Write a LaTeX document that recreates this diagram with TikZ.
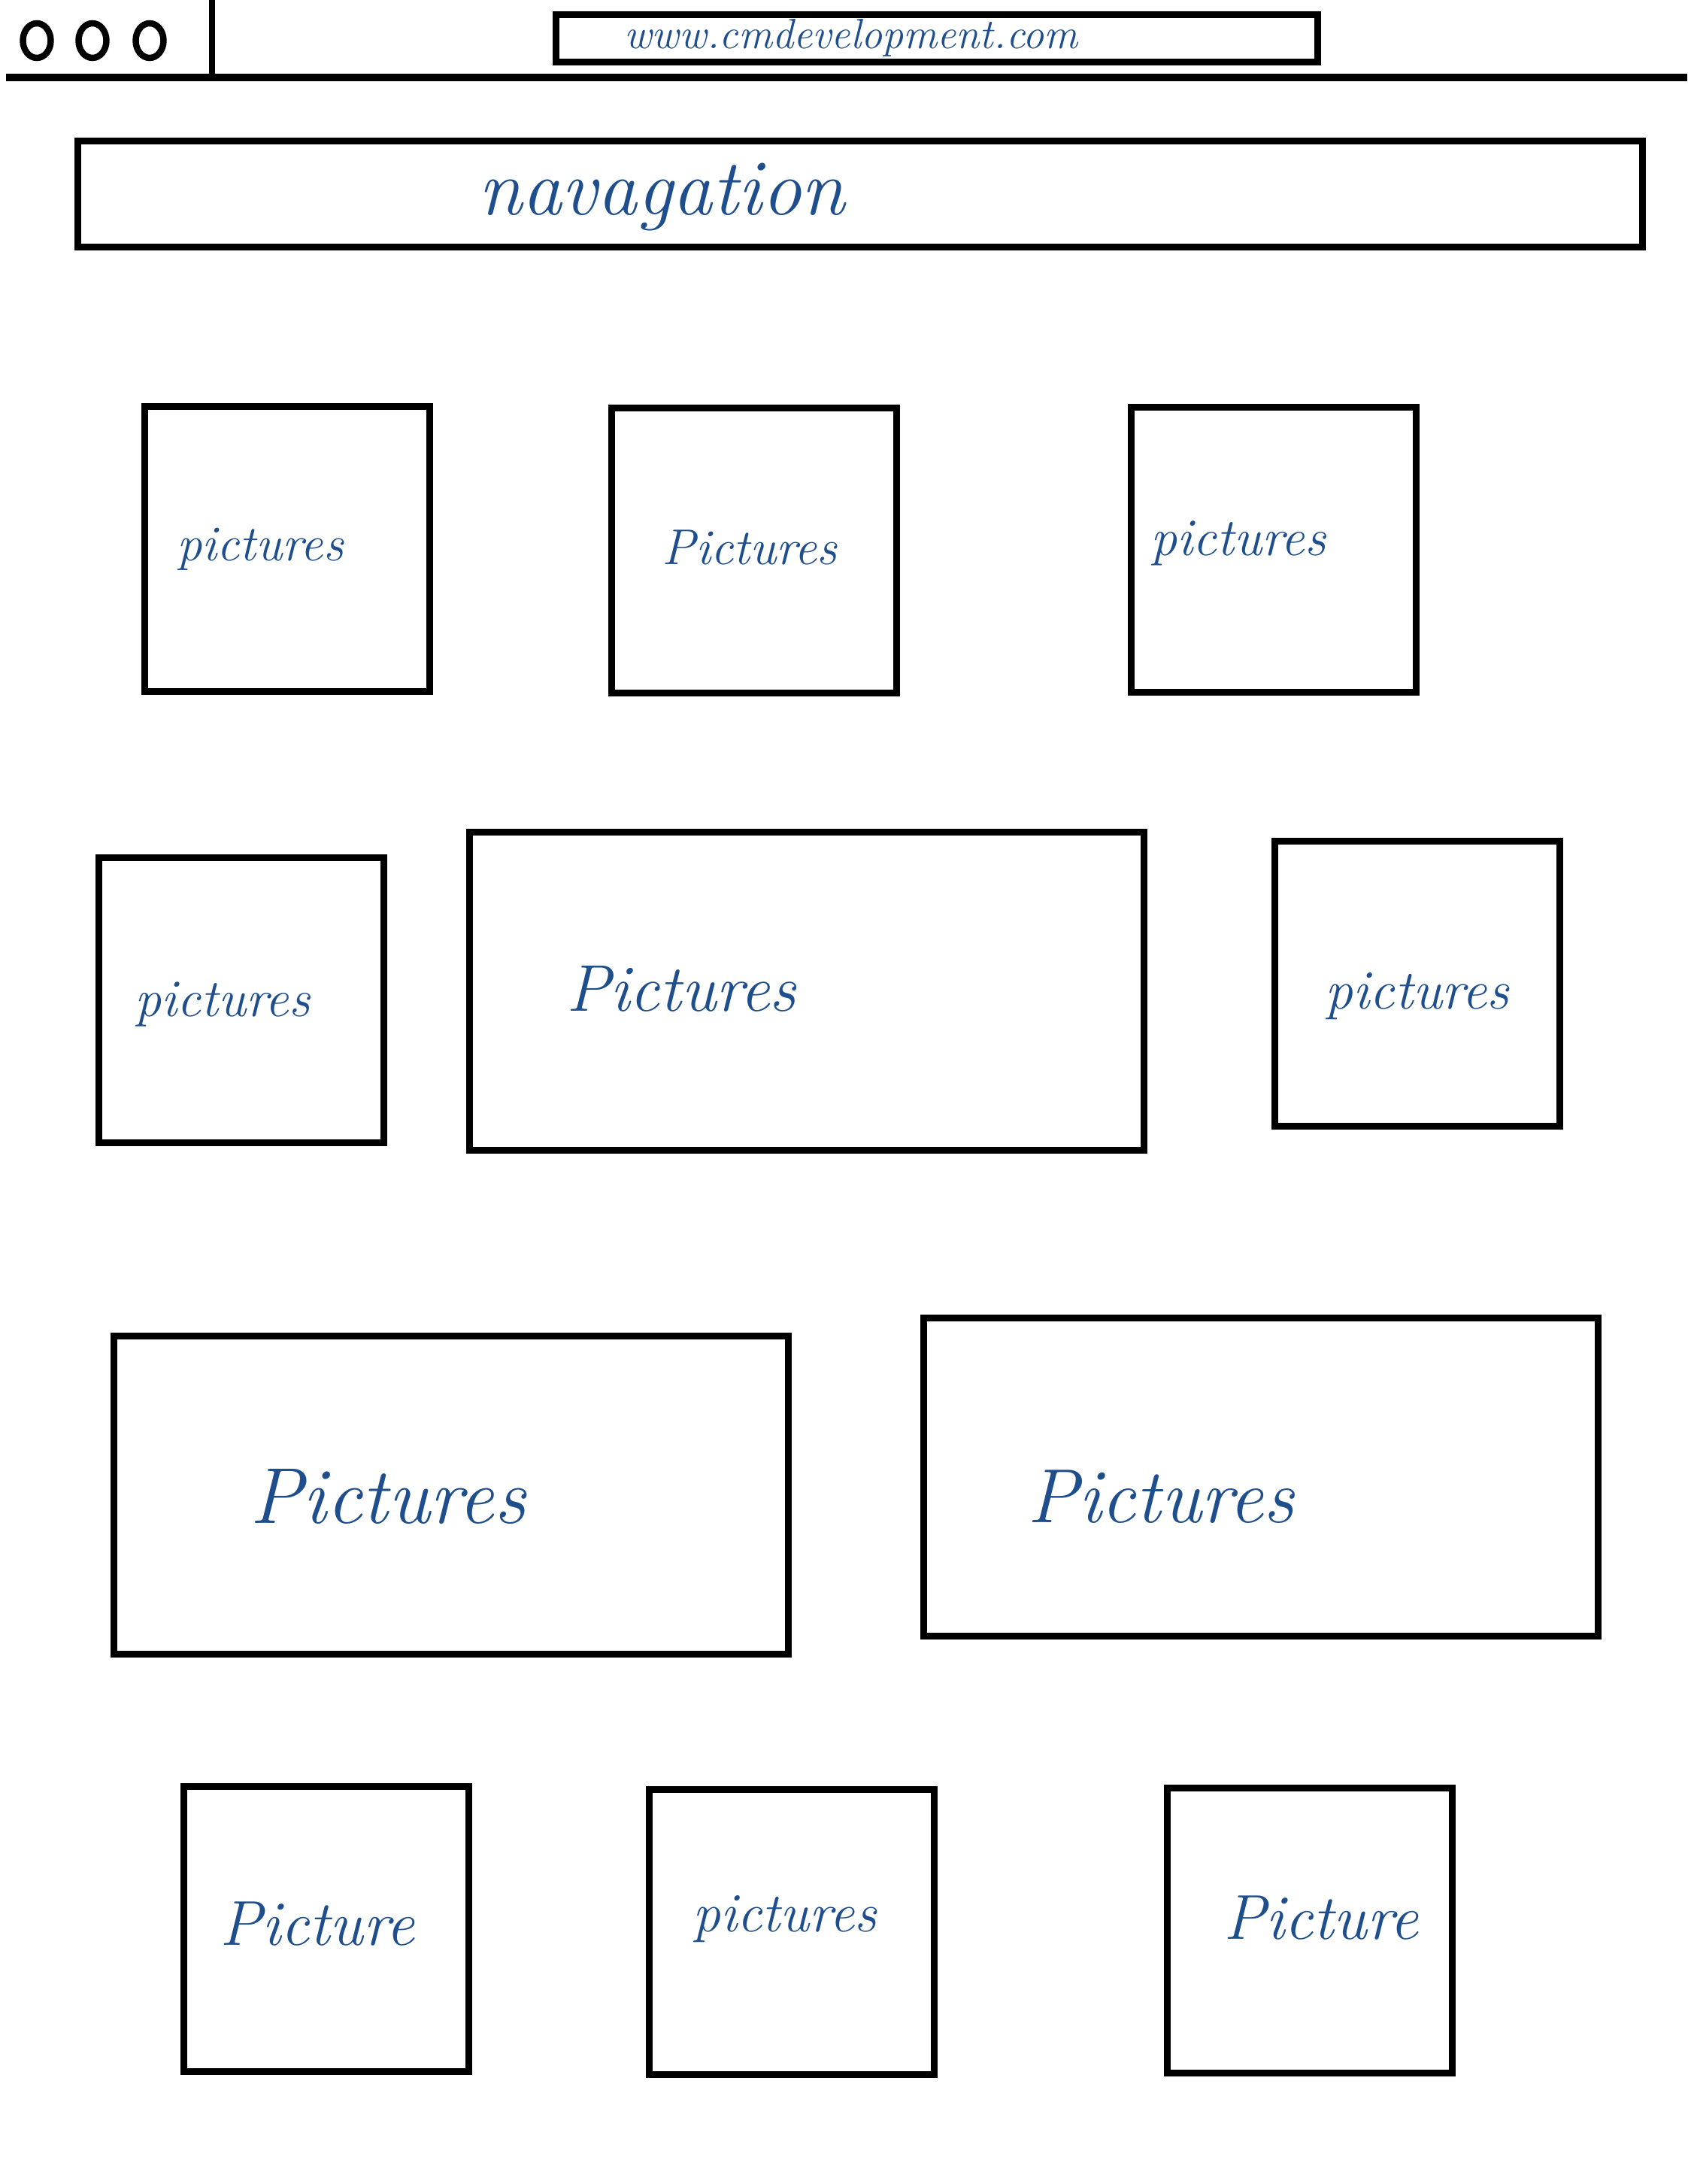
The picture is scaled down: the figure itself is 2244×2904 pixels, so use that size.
\documentclass[tikz,border=0pt]{standalone}
\usepackage{tikz}
\usetikzlibrary{shapes.geometric}
\definecolor{inkblue}{HTML}{1F4E8C}

\begin{document}
\begin{tikzpicture}[x=0.01cm, y=-0.01cm,
        frame/.style={draw, line width=2.6pt, inner sep=0pt, outer sep=0pt},
        square/.style={frame, minimum width=3.78cm, minimum height=3.78cm},
        wide/.style={frame, minimum width=8.97cm, minimum height=4.22cm},
        winbtn/.style={draw, ellipse, line width=2.4pt, inner sep=0pt, minimum width=0.37cm, minimum height=0.46cm},
        scrawl/.style={text=inkblue, inner sep=0pt}]
        \useasboundingbox (0,0) rectangle (2244,2904);
        % browser bar
        \node (btn1) [winbtn] at (49,54) {};
        \node (btn2) [winbtn] at (123,54) {};
        \node (btn3) [winbtn] at (199,54) {};
        \coordinate (bartop) at (282,0);
        \coordinate (barbot) at (282,102);
        \draw [line width=2pt] (bartop) -- (barbot);
        \coordinate (lineL) at (8,103);
        \coordinate (lineR) at (2244,103);
        \draw [line width=3pt] (lineL) -- (lineR);
        \node (url) [frame, minimum width=10.12cm, minimum height=0.63cm] at (1246,51) {};
        \node (urltext) [scrawl, font=\fontsize{16}{19}\selectfont\itshape] at (1132,50) {www.cmdevelopment.com};
        % navigation
        \node (nav) [frame, minimum width=20.79cm, minimum height=1.41cm] at (1144,258) {};
        \node (navtext) [scrawl, font=\fontsize{30}{36}\selectfont\itshape] at (880,262) {navagation};
        % row 1
        \node (p1) [square] at (382,730) {};
        \node (p2) [square] at (1003,732) {};
        \node (p3) [square] at (1694,731) {};
        \node (t1) [scrawl, font=\fontsize{19}{23}\selectfont\itshape] at (346,730) {pictures};
        \node (t2) [scrawl, font=\fontsize{19}{23}\selectfont\itshape] at (997,728) {Pictures};
        \node (t3) [scrawl, font=\fontsize{20}{24}\selectfont\itshape] at (1647,722) {pictures};
        % row 2
        \node (p4) [square] at (321,1330) {};
        \node (p5) [wide] at (1073,1318) {};
        \node (p6) [square] at (1885,1308) {};
        \node (t4) [scrawl, font=\fontsize{20}{24}\selectfont\itshape] at (296,1335) {pictures};
        \node (t5) [scrawl, font=\fontsize{25}{30}\selectfont\itshape] at (906,1315) {Pictures};
        \node (t6) [scrawl, font=\fontsize{21}{25}\selectfont\itshape] at (1885,1325) {pictures};
        % row 3
        \node (p7) [wide] at (600,1988) {};
        \node (p8) [wide] at (1677,1964) {};
        \node (t7) [scrawl, font=\fontsize{30}{36}\selectfont\itshape] at (516,1990) {Pictures};
        \node (t8) [scrawl, font=\fontsize{29}{35}\selectfont\itshape] at (1544,1990) {Pictures};
        % row 4
        \node (p9) [square] at (434,2565) {};
        \node (p10) [square] at (1053,2569) {};
        \node (p11) [square] at (1742,2567) {};
        \node (t9) [scrawl, font=\fontsize{24}{29}\selectfont\itshape] at (422,2558) {Picture};
        \node (t10) [scrawl, font=\fontsize{21}{25}\selectfont\itshape] at (1044,2552) {pictures};
        \node (t11) [scrawl, font=\fontsize{24}{29}\selectfont\itshape] at (1757,2550) {Picture};
\end{tikzpicture}
\end{document}
